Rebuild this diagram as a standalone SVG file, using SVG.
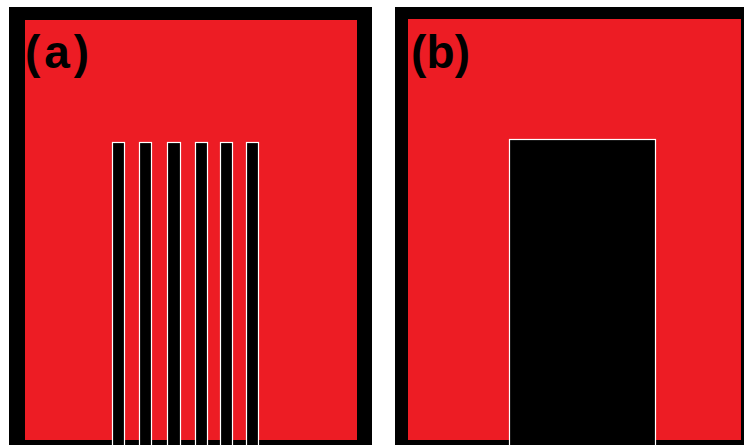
<svg xmlns="http://www.w3.org/2000/svg" width="744" height="445" viewBox="0 0 744 445">
<style>
.frame{fill:#000}
.field{fill:#ED1C24}
.slot{fill:#000;stroke:#fff;stroke-width:1.2}
.lbl{font-family:"Liberation Sans",Arial,sans-serif;font-weight:bold;font-size:46px;fill:#000}
</style>
<rect width="744" height="445" fill="#fff"/>
<g id="panel-a">
<rect class="frame" x="9" y="7" width="363" height="440"/>
<rect class="field" x="25" y="20" width="332" height="420"/>
<rect class="slot" x="112.5" y="142.5" width="12" height="310"/>
<rect class="slot" x="139.5" y="142.5" width="12" height="310"/>
<rect class="slot" x="167.5" y="142.5" width="13" height="310"/>
<rect class="slot" x="195.5" y="142.5" width="12" height="310"/>
<rect class="slot" x="220.5" y="142.5" width="12" height="310"/>
<rect class="slot" x="246.5" y="142.5" width="12" height="310"/>
<text class="lbl" x="25" y="68" textLength="64" lengthAdjust="spacing">(a)</text>
</g>
<g id="panel-b">
<rect class="frame" x="395" y="7" width="352" height="440"/>
<rect class="field" x="408" y="19" width="333" height="421"/>
<rect class="slot" x="509.5" y="139.5" width="146" height="315"/>
<text class="lbl" x="411" y="68" textLength="59" lengthAdjust="spacing">(b)</text>
</g>
<g id="connectors"/>
</svg>
